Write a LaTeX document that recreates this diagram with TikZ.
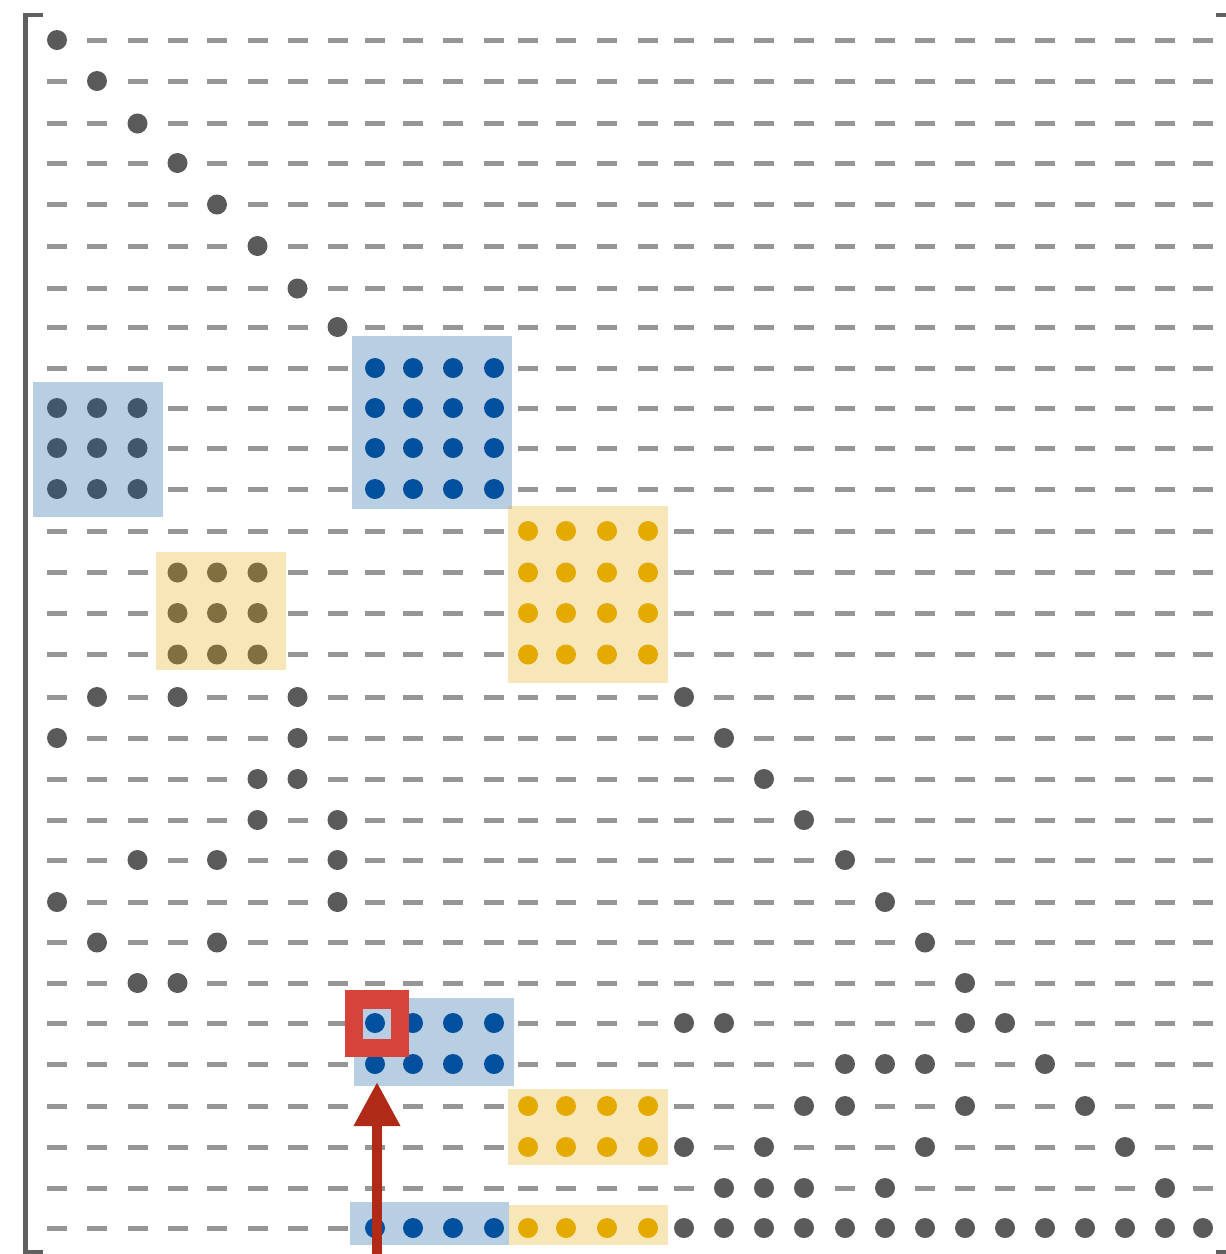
\documentclass[tikz,border=0pt]{standalone}
\usetikzlibrary{arrows.meta}
\definecolor{dashgray}{HTML}{969696}
\definecolor{dotgray}{HTML}{5A5A5A}
\definecolor{mblue}{HTML}{00509E}
\definecolor{morange}{HTML}{E5AA00}
\definecolor{mred}{HTML}{D5433A}
\definecolor{arrowred}{HTML}{B02A18}
\definecolor{bracketgray}{HTML}{606060}
\newcount\mxcol
\def\mxrow{0}
\def\mxcolxs{57,97,137.5,177.5,217,257.5,297.5,337.5,375,413,453,494,528,566,607,648,684,724,764,804,845,885,925,965,1005,1045,1085,1125,1165,1203}
\def\mxrowys{40,81,123.5,163,204.5,246,288.5,327,368,408,448,489,531,572.5,613,654.5,697,738,779,820,860,902,942.5,983,1023,1064,1106,1147,1188,1228}
\def\mxcell#1{%
  \pgfmathsetmacro\cx{{\mxcolxs}[\the\mxcol]}%
  \pgfmathsetmacro\cy{{\mxrowys}[\mxrow]}%
  \if#1.\draw[dashcell] ({\cx-10},\cy) -- ({\cx+10},\cy);\fi
  \if#1g\fill[dotgray] (\cx,\cy) circle[radius=10pt];\fi
  \if#1b\fill[mblue] (\cx,\cy) circle[radius=10pt];\fi
  \if#1o\fill[morange] (\cx,\cy) circle[radius=10pt];\fi
}
\def\mxparse#1{\ifx#1\relax\else\mxcell{#1}\advance\mxcol by 1 \expandafter\mxparse\fi}
\newcommand\mxline[2]{\def\mxrow{#1}\mxcol=0 \mxparse#2\relax}
\tikzset{
  dashcell/.style={dashgray, line width=5pt},
  bluebox/.style={fill=mblue, fill opacity=0.28},
  orangebox/.style={fill=morange, fill opacity=0.28},
  bracket/.style={draw=bracketgray, line width=4.5pt, line cap=butt, line join=miter},
}
\begin{document}
\begin{tikzpicture}[x=1pt,y=-1pt]
\fill[white] (0,0) rectangle (1226,1254);
\useasboundingbox (0,0) rectangle (1226,1254);
\mxline{0}{g.............................}
\mxline{1}{.g............................}
\mxline{2}{..g...........................}
\mxline{3}{...g..........................}
\mxline{4}{....g.........................}
\mxline{5}{.....g........................}
\mxline{6}{......g.......................}
\mxline{7}{.......g......................}
\mxline{8}{........bbbb..................}
\mxline{9}{ggg.....bbbb..................}
\mxline{10}{ggg.....bbbb..................}
\mxline{11}{ggg.....bbbb..................}
\mxline{12}{............oooo..............}
\mxline{13}{...ggg......oooo..............}
\mxline{14}{...ggg......oooo..............}
\mxline{15}{...ggg......oooo..............}
\mxline{16}{.g.g..g.........g.............}
\mxline{17}{g.....g..........g............}
\mxline{18}{.....gg...........g...........}
\mxline{19}{.....g.g...........g..........}
\mxline{20}{..g.g..g............g.........}
\mxline{21}{g......g.............g........}
\mxline{22}{.g..g.................g.......}
\mxline{23}{..gg...................g......}
\mxline{24}{........bbbb....gg.....gg.....}
\mxline{25}{........bbbb........ggg..g....}
\mxline{26}{............oooo...gg..g..g...}
\mxline{27}{............oooog.g...g....g..}
\mxline{28}{.................ggg.g......g.}
\mxline{29}{........bbbboooogggggggggggggg}
% highlight boxes
\path[bluebox] (33,382) rectangle (163,517);
\path[bluebox] (352,336) rectangle (512,509);
\path[orangebox] (508,506) rectangle (668,683);
\path[orangebox] (156,552) rectangle (286,670);
\path[bluebox] (354,998) rectangle (514,1086);
\path[orangebox] (508,1089) rectangle (668,1165);
\path[bluebox] (350,1202) rectangle (509,1245);
\path[orangebox] (509,1205) rectangle (668,1245);
% red marker
\node[draw=mred, line width=18.5pt, minimum width=46pt, minimum height=48.5pt, inner sep=0pt] (redbox) at (377,1023.75) {};
% arrow
\coordinate (arrowfoot) at (377,1275);
\coordinate (arrowtip) at (377,1082);
\draw[arrowred, line width=10pt, -{Triangle[length=44pt,width=44pt]}] (arrowfoot) -- (arrowtip);
% brackets
\draw[bracket] (43,15) -- (25.5,15) -- (25.5,1252.5) -- (43,1252.5);
\draw[bracket] (1216,15) -- (1228.5,15) -- (1228.5,1252.5) -- (1216,1252.5);
\end{tikzpicture}
\end{document}
